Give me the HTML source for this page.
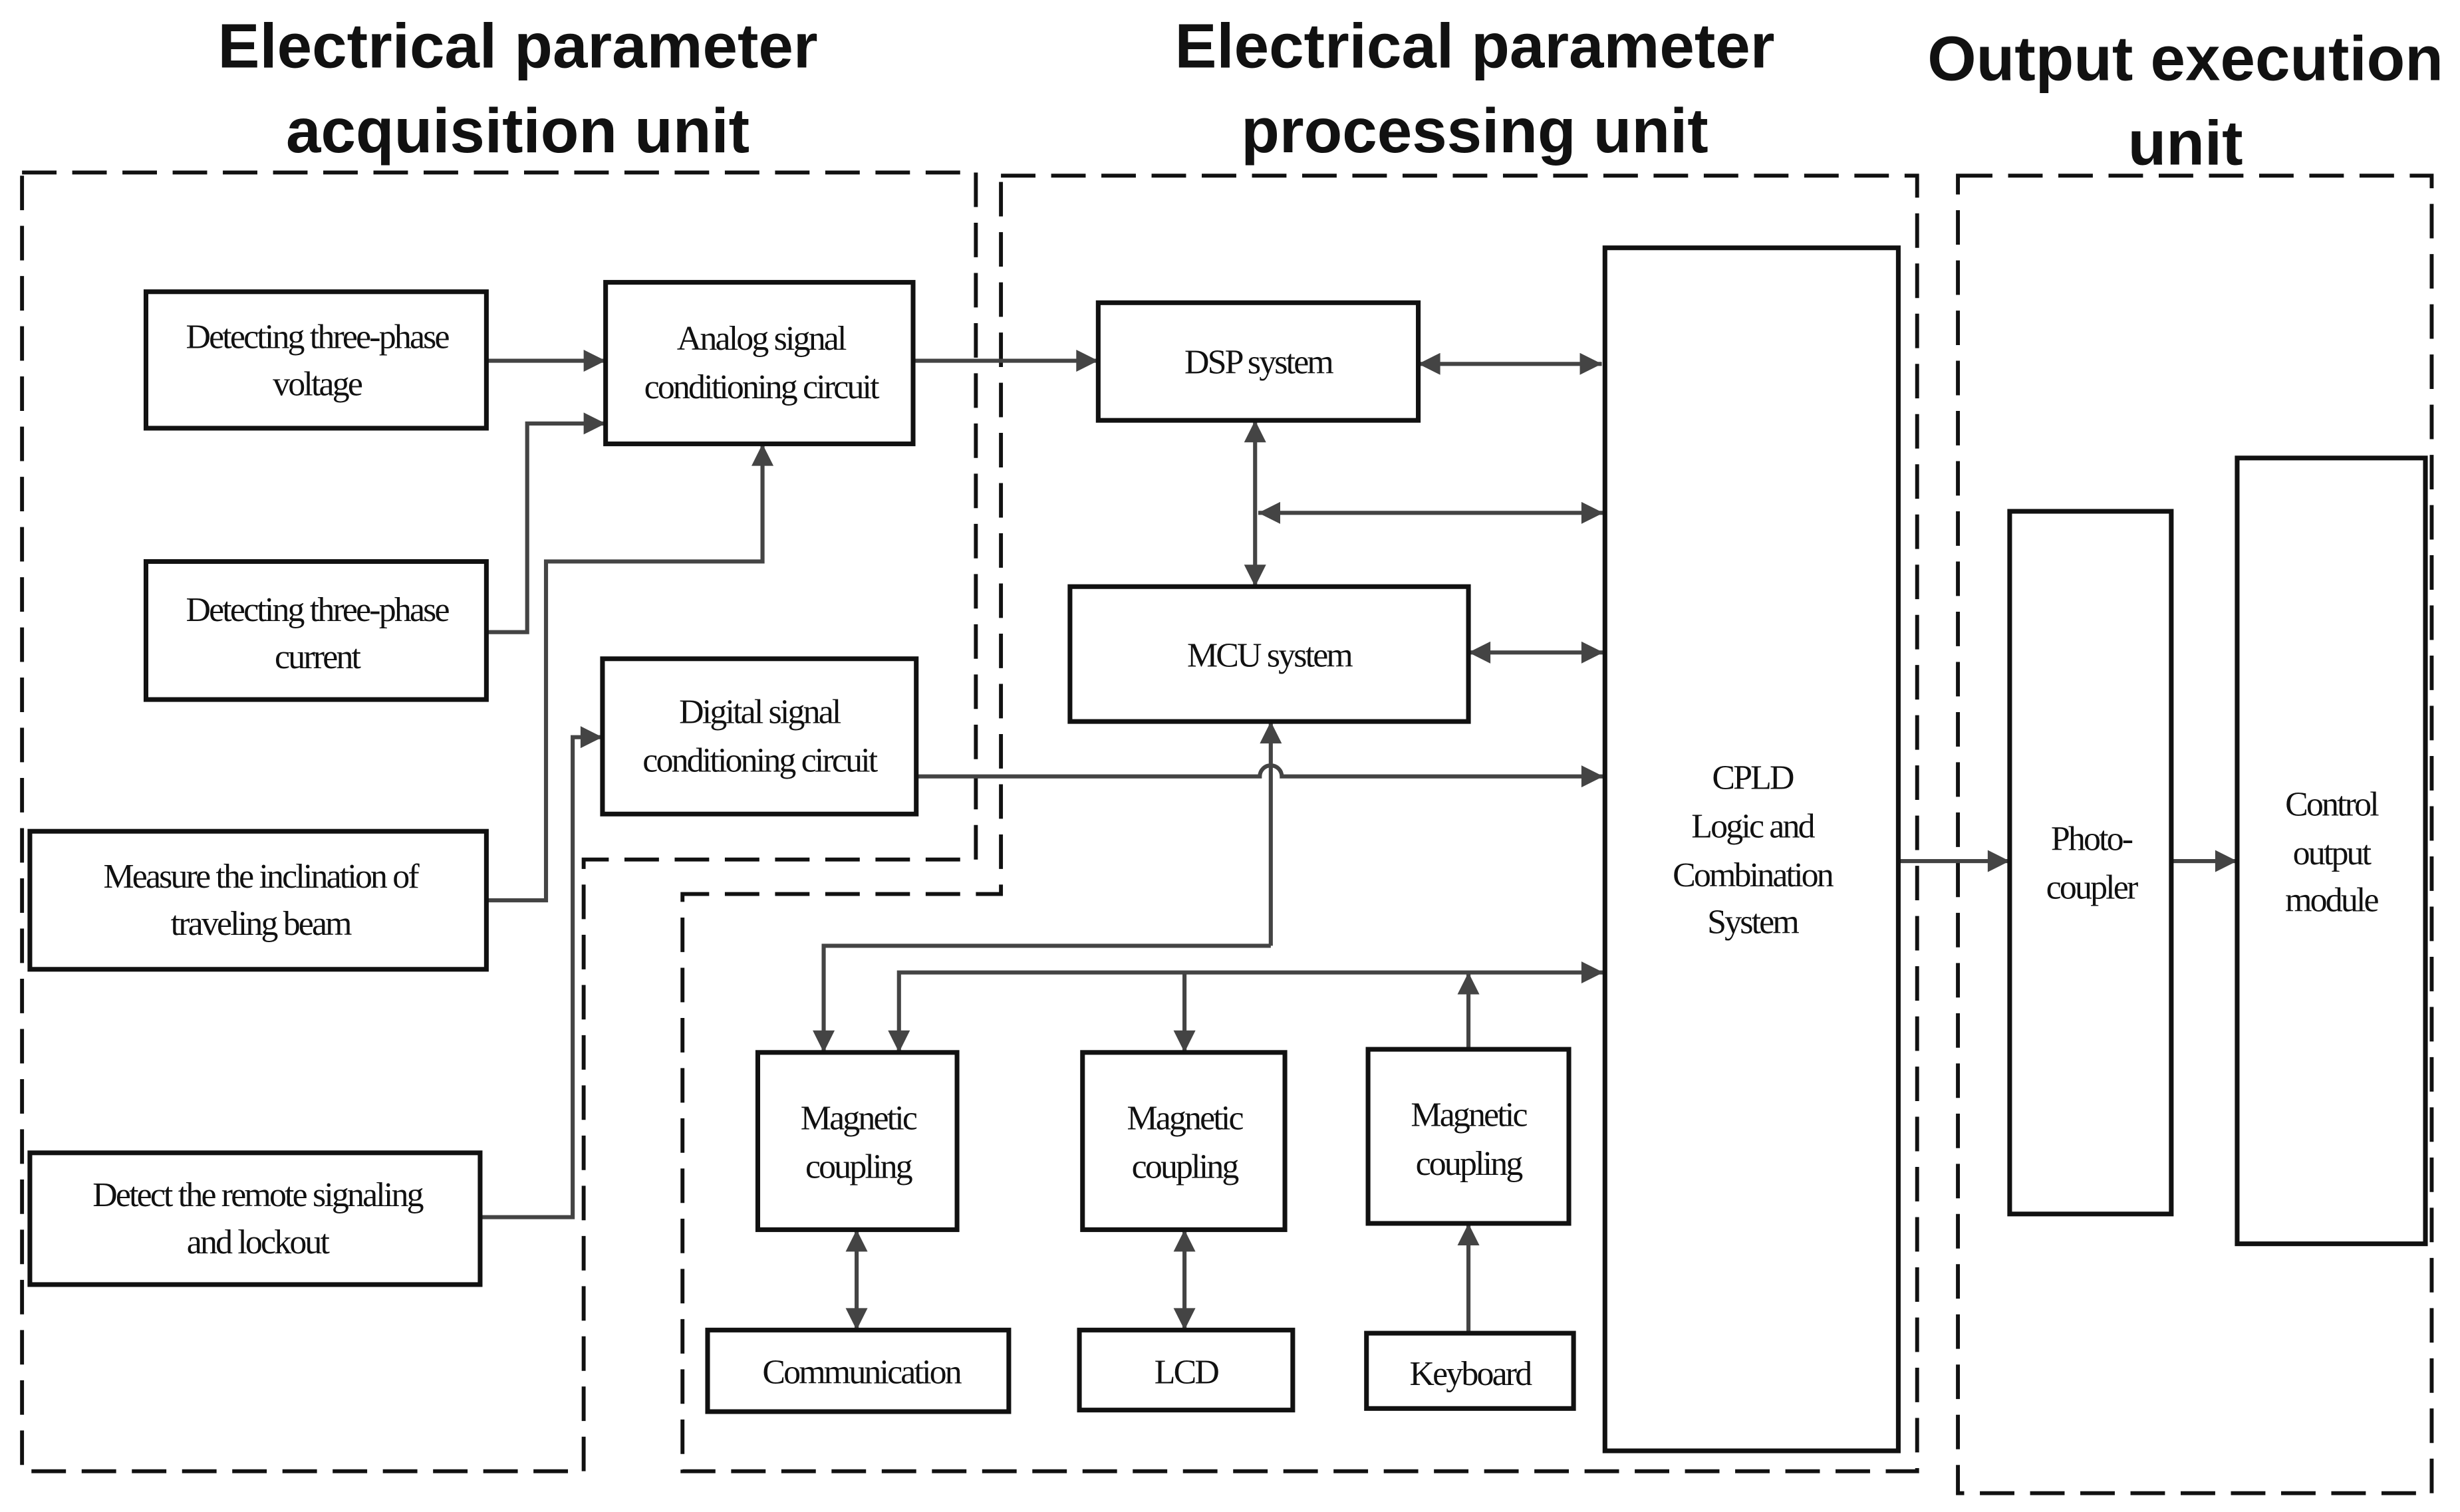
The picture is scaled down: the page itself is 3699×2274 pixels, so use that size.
<!DOCTYPE html>
<html><head><meta charset="utf-8"><style>
html,body{margin:0;padding:0;background:#fff;}
svg{display:block;}
.t{font-family:"Liberation Serif",serif;font-size:22px;letter-spacing:-1.2px;fill:#111;text-anchor:middle;}
.h{font-family:"Liberation Sans",sans-serif;font-weight:bold;font-size:40px;fill:#111;text-anchor:middle;}
.b{fill:#fff;stroke:#111;stroke-width:3;}
.d{fill:none;stroke:#111;stroke-width:2.5;stroke-dasharray:22,10;}
.c{fill:none;stroke:#444;stroke-width:2.6;}
</style></head><body>
<svg width="3699" height="2274" viewBox="0 0 1568 964" xmlns="http://www.w3.org/2000/svg">
<defs>
<marker id="m" viewBox="0 0 10 10" markerWidth="16" markerHeight="14" refX="10" refY="5" orient="auto-start-reverse" markerUnits="userSpaceOnUse">
<path d="M0,0 L10,5 L0,10 z" fill="#444"/>
</marker>
</defs>
<rect width="1568" height="964" fill="#fff"/>
<text class="h" x="330" y="43">Electrical parameter</text>
<text class="h" x="330" y="97">acquisition unit</text>
<text class="h" x="940" y="43">Electrical parameter</text>
<text class="h" x="940" y="97">processing unit</text>
<text class="h" x="1393" y="51">Output execution</text>
<text class="h" x="1393" y="105">unit</text>

<path class="d" d="M14,110 L622,110 L622,548 L372,548 L372,938 L14,938 Z"/>
<path class="d" d="M638,112 L1222,112 L1222,938 L435,938 L435,570 L638,570 Z"/>
<rect class="d" x="1248" y="112" width="302" height="840"/>

<path class="c" d="M310,230 L386,230" marker-end="url(#m)"/>
<path class="c" d="M310,403 L336,403 L336,270 L386,270" marker-end="url(#m)"/>
<path class="c" d="M310,574 L348,574 L348,358 L486,358 L486,283" marker-end="url(#m)"/>
<path class="c" d="M306,776 L365,776 L365,470 L384,470" marker-end="url(#m)"/>
<path class="c" d="M582,230 L700,230" marker-end="url(#m)"/>
<path class="c" d="M904,232 L1021,232" marker-start="url(#m)" marker-end="url(#m)"/>
<path class="c" d="M800,268 L800,374" marker-start="url(#m)" marker-end="url(#m)"/>
<path class="c" d="M802,327 L1022,327" marker-start="url(#m)" marker-end="url(#m)"/>
<path class="c" d="M936,416 L1022,416" marker-start="url(#m)" marker-end="url(#m)"/>
<path class="c" d="M584,495 L803,495 A7,7 0 0 1 817,495 L1022,495" marker-end="url(#m)"/>
<path class="c" d="M810,603 L810,460" marker-end="url(#m)"/>
<path class="c" d="M810,603 L525,603 L525,671" marker-end="url(#m)"/>
<path class="c" d="M573,671 L573,620 L1022,620" marker-start="url(#m)" marker-end="url(#m)"/>
<path class="c" d="M755,620 L755,671" marker-end="url(#m)"/>
<path class="c" d="M936,669 L936,620" marker-end="url(#m)"/>
<path class="c" d="M546,784 L546,848" marker-start="url(#m)" marker-end="url(#m)"/>
<path class="c" d="M755,784 L755,848" marker-start="url(#m)" marker-end="url(#m)"/>
<path class="c" d="M936,850 L936,780" marker-end="url(#m)"/>
<path class="c" d="M1210,549 L1281,549" marker-end="url(#m)"/>
<path class="c" d="M1384,549 L1426,549" marker-end="url(#m)"/>

<rect class="b" x="93" y="186" width="217" height="87"/>
<text class="t" x="202" y="222">Detecting three-phase</text><text class="t" x="202" y="252">voltage</text>
<rect class="b" x="93" y="358" width="217" height="88"/>
<text class="t" x="202" y="396">Detecting three-phase</text><text class="t" x="202" y="426">current</text>
<rect class="b" x="19" y="530" width="291" height="88"/>
<text class="t" x="166" y="566">Measure the inclination of</text><text class="t" x="166" y="596">traveling beam</text>
<rect class="b" x="19" y="735" width="287" height="84"/>
<text class="t" x="164" y="769">Detect  the remote signaling</text><text class="t" x="164" y="799">and lockout</text>
<rect class="b" x="386" y="180" width="196" height="103"/>
<text class="t" x="485" y="223">Analog signal</text><text class="t" x="485" y="254">conditioning circuit</text>
<rect class="b" x="384" y="420" width="200" height="99"/>
<text class="t" x="484" y="461">Digital signal</text><text class="t" x="484" y="492">conditioning circuit</text>
<rect class="b" x="700" y="193" width="204" height="75"/>
<text class="t" x="802" y="238">DSP system</text>
<rect class="b" x="682" y="374" width="254" height="86"/>
<text class="t" x="809" y="425">MCU system</text>
<rect class="b" x="1023" y="158" width="187" height="767"/>
<text class="t" x="1117" y="503">CPLD</text><text class="t" x="1117" y="534">Logic and</text><text class="t" x="1117" y="565">Combination</text><text class="t" x="1117" y="595">System</text>
<rect class="b" x="483" y="671" width="127" height="113"/>
<text class="t" x="547" y="720">Magnetic</text><text class="t" x="547" y="751">coupling</text>
<rect class="b" x="690" y="671" width="129" height="113"/>
<text class="t" x="755" y="720">Magnetic</text><text class="t" x="755" y="751">coupling</text>
<rect class="b" x="872" y="669" width="128" height="111"/>
<text class="t" x="936" y="718">Magnetic</text><text class="t" x="936" y="749">coupling</text>
<rect class="b" x="451" y="848" width="192" height="52"/>
<text class="t" x="549" y="882">Communication</text>
<rect class="b" x="688" y="848" width="136" height="51"/>
<text class="t" x="756" y="882">LCD</text>
<rect class="b" x="871" y="850" width="132" height="48"/>
<text class="t" x="937" y="883">Keyboard</text>
<rect class="b" x="1281" y="326" width="103" height="448"/>
<text class="t" x="1333" y="542">Photo-</text><text class="t" x="1333" y="573">coupler</text>
<rect class="b" x="1426" y="292" width="120" height="501"/>
<text class="t" x="1486" y="520">Control</text><text class="t" x="1486" y="551">output</text><text class="t" x="1486" y="581">module</text>
</svg>
</body></html>
